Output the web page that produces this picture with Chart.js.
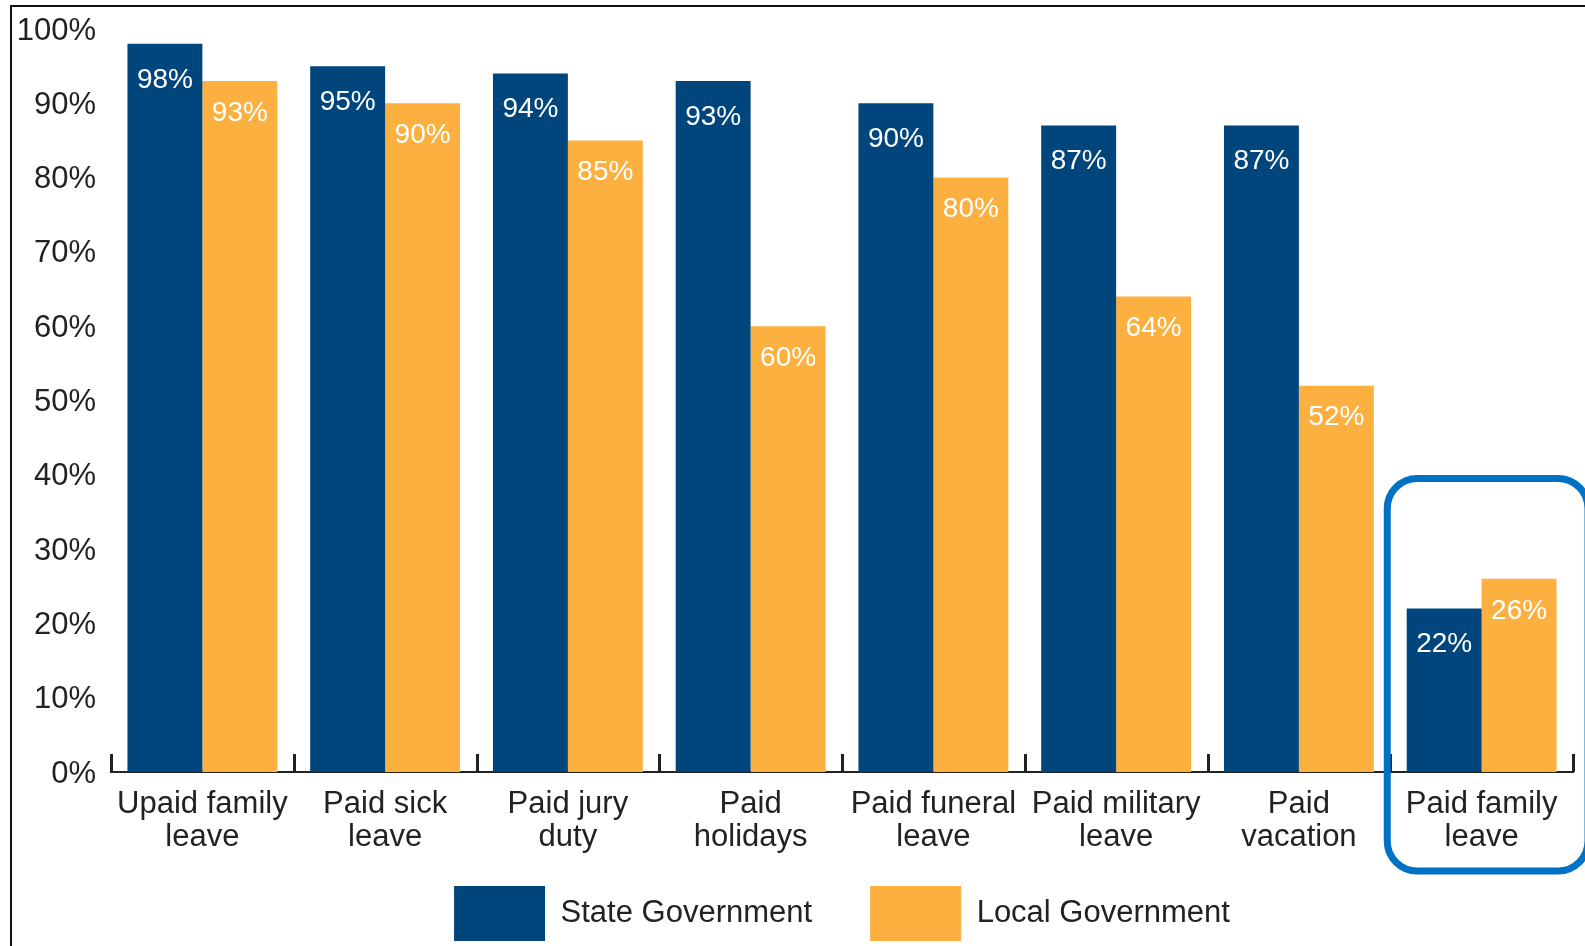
<!DOCTYPE html>
<html>
<head>
<meta charset="utf-8">
<script src="https://cdn.jsdelivr.net/npm/chart.js@4.4.1/dist/chart.umd.min.js"></script>
<style>
  html, body { margin: 0; padding: 0; background: #fff; overflow: hidden; }
  #wrap { position: relative; width: 1585px; height: 951px; }
</style>
</head>
<body>
<div id="wrap"><canvas id="benefitsChart"></canvas></div>
<script>
// categories (two-line labels as drawn under the axis)
const categories = [
    ['Upaid family', 'leave'],
    ['Paid sick', 'leave'],
    ['Paid jury', 'duty'],
    ['Paid', 'holidays'],
    ['Paid funeral', 'leave'],
    ['Paid military', 'leave'],
    ['Paid', 'vacation'],
    ['Paid family', 'leave']
];
const stateValues = [98, 95, 94, 93, 90, 87, 87, 22];
const localValues = [93, 90, 85, 60, 80, 64, 52, 26];
const yTicks = [0, 10, 20, 30, 40, 50, 60, 70, 80, 90, 100];
const highlightIndex = 7;

const fontFamily = '"Liberation Sans", Arial, sans-serif';
const textColor = '#222';

// black frame lines along top and left edge
const framePlugin = {
    id: 'frame',
    beforeDraw(chart) {
        const ctx = chart.ctx;
        ctx.save();
        ctx.fillStyle = '#fff';
        ctx.fillRect(0, 0, chart.width, chart.height);
        ctx.fillStyle = '#111';
        ctx.fillRect(10, 5, chart.width - 10, 2);
        ctx.fillRect(10, 5, 2, chart.height - 5);
        ctx.restore();
    }
};

// small upward ticks between categories + the category labels
const axisTicksPlugin = {
    id: 'axisTicks',
    afterDatasetsDraw(chart) {
        const ctx = chart.ctx;
        const x = chart.scales.x, y = chart.scales.y;
        const step = (x.right - x.left) / categories.length;
        ctx.save();
        ctx.fillStyle = textColor;
        for (let i = 0; i <= categories.length; i++) {
            const px = Math.round(x.left + i * step);
            ctx.fillRect(px - 1, y.bottom - 18, 3, 18);
        }
        ctx.font = '31px ' + fontFamily;
        ctx.textAlign = 'center';
        ctx.textBaseline = 'middle';
        categories.forEach((lines, i) => {
            const px = x.getPixelForValue(i);
            lines.forEach((line, li) => {
                ctx.fillText(line, px, y.bottom + 32 + li * 33);
            });
        });
        ctx.restore();
    }
};

// white value labels inside the top of each bar
const valueLabelPlugin = {
    id: 'valueLabels',
    afterDatasetsDraw(chart) {
        const ctx = chart.ctx;
        ctx.save();
        ctx.fillStyle = '#fff';
        ctx.font = '28px ' + fontFamily;
        ctx.textAlign = 'center';
        ctx.textBaseline = 'middle';
        chart.data.datasets.forEach((ds, di) => {
            chart.getDatasetMeta(di).data.forEach((bar, i) => {
                ctx.fillText(ds.data[i] + '%', bar.x, bar.y + ds.labelOffset);
            });
        });
        ctx.restore();
    }
};

// rounded blue box around the highlighted category
const highlightPlugin = {
    id: 'highlight',
    afterDraw(chart) {
        const ctx = chart.ctx;
        const x = chart.scales.x, y = chart.scales.y;
        const step = (x.right - x.left) / categories.length;
        const cx = x.getPixelForValue(highlightIndex);
        const left = cx - step / 2 - 3;
        const right = cx + step / 2 + 15;
        const top = y.getPixelForValue(39.5);
        const bottom = y.bottom + 99;
        ctx.save();
        ctx.strokeStyle = '#0072c6';
        ctx.lineWidth = 7;
        ctx.beginPath();
        ctx.roundRect(left, top, right - left, bottom - top, 30);
        ctx.stroke();
        ctx.restore();
    }
};

const ctx = document.getElementById('benefitsChart').getContext('2d');

new Chart(ctx, {
    type: 'bar',
    data: {
        labels: categories,
        datasets: [{
            label: 'State Government',
            data: stateValues,
            backgroundColor: '#00457c',
            borderWidth: 0,
            categoryPercentage: 0.82,
            barPercentage: 1,
            labelOffset: 36
        }, {
            label: 'Local Government',
            data: localValues,
            backgroundColor: '#fbb040',
            borderWidth: 0,
            categoryPercentage: 0.82,
            barPercentage: 1,
            labelOffset: 32
        }]
    },
    options: {
        responsive: true,
        maintainAspectRatio: false,
        animation: false,
        layout: {
            padding: { left: 0, right: 12, top: 29, bottom: 0 }
        },
        plugins: {
            legend: {
                position: 'bottom',
                fullSize: false,
                labels: {
                    boxWidth: 91,
                    boxHeight: 55,
                    padding: 58,
                    color: textColor,
                    font: { size: 31, family: fontFamily }
                }
            },
            tooltip: { enabled: false }
        },
        scales: {
            x: {
                grid: { display: false },
                border: { display: true, color: textColor, width: 2 },
                ticks: { display: false },
                afterFit(scale) { scale.height = 56; }
            },
            y: {
                min: 0,
                max: 100,
                afterBuildTicks(scale) { scale.ticks = yTicks.map(v => ({ value: v })); },
                grid: { display: false },
                border: { display: false },
                ticks: {
                    color: textColor,
                    padding: 7,
                    labelOffset: 2,
                    font: { size: 31, family: fontFamily },
                    callback: v => v + '%'
                },
                afterFit(scale) { scale.width = 111; }
            }
        }
    },
    plugins: [framePlugin, axisTicksPlugin, valueLabelPlugin, highlightPlugin]
});
</script>
</body>
</html>
